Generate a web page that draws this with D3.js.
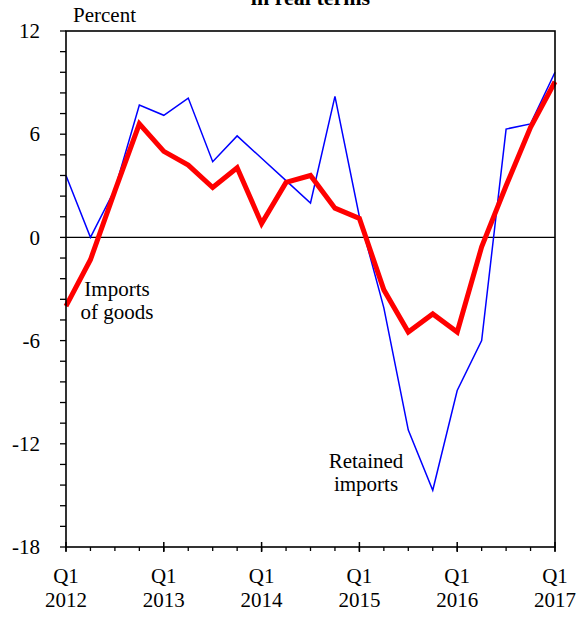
<!DOCTYPE html>
<html>
<head>
<meta charset="utf-8">
<script src="https://cdn.jsdelivr.net/npm/d3@7"></script>
<style>
  html, body { margin: 0; padding: 0; background: #fff; }
  svg { display: block; }
</style>
</head>
<body>
<svg id="chart" width="581" height="617"></svg>
<script>
// ---- Data (quarterly, 2012 Q1 .. 2017 Q1) ----
const quarters = [
  "2012Q1","2012Q2","2012Q3","2012Q4",
  "2013Q1","2013Q2","2013Q3","2013Q4",
  "2014Q1","2014Q2","2014Q3","2014Q4",
  "2015Q1","2015Q2","2015Q3","2015Q4",
  "2016Q1","2016Q2","2016Q3","2016Q4",
  "2017Q1"
];
const retainedImports = [3.6, 0.0, 2.8, 7.7, 7.1, 8.1, 4.4, 5.9, 4.6, 3.3, 2.0, 8.2, 1.2, -4.1, -11.2, -14.7, -8.9, -6.0, 6.3, 6.6, 9.6];
const importsOfGoods  = [-4.0, -1.3, 2.7, 6.6, 5.0, 4.2, 2.9, 4.05, 0.8, 3.2, 3.6, 1.7, 1.1, -3.05, -5.5, -4.45, -5.5, -0.55, 3.0, 6.4, 9.05];
const yTickValues = [12, 6, 0, -6, -12, -18];
const xTickQuarters = ["2012Q1","2013Q1","2014Q1","2015Q1","2016Q1","2017Q1"];
const xTickLabels = [["Q1","2012"],["Q1","2013"],["Q1","2014"],["Q1","2015"],["Q1","2016"],["Q1","2017"]];

// ---- Layout ----
const FONT = "'Liberation Serif', 'Times New Roman', Times, serif";
const FS = 21;
const mLeft = 66, mRight = 555, mTop = 31, mBottom = 547;
const svg = d3.select("#chart").attr("font-family", FONT);

const x = d3.scalePoint().domain(quarters).range([mLeft, mRight]);
const y = d3.scaleLinear().domain([-18, 12]).range([mBottom, mTop]);

function txt(sel) { return sel.attr("font-family", FONT).attr("fill", "#000"); }

// Title (cut off at top, as in the source)
txt(svg.append("text"))
  .attr("x", (mLeft + mRight) / 2).attr("y", 5)
  .attr("text-anchor", "middle")
  .attr("font-size", 22).attr("font-weight", "bold")
  .text("in real terms");

// Unit label
txt(svg.append("text"))
  .attr("x", 73).attr("y", 22)
  .attr("font-size", FS)
  .text("Percent");

// Y axis minor ticks (5 subdivisions between majors)
const yMinor = [];
for (let i = 0; i < yTickValues.length - 1; i++) {
  const a = yTickValues[i], b = yTickValues[i + 1];
  for (let k = 0; k < 5; k++) yMinor.push(a + (b - a) * k / 5);
}
yMinor.push(yTickValues[yTickValues.length - 1]);

svg.append("g").selectAll("line").data(yMinor).join("line")
  .attr("x1", mLeft - 6).attr("x2", mLeft)
  .attr("y1", d => y(d)).attr("y2", d => y(d))
  .attr("stroke", "#000").attr("stroke-width", 1.3);

txt(svg.append("g").selectAll("text").data(yTickValues).join("text"))
  .attr("x", 40).attr("y", d => y(d))
  .attr("dy", "0.34em")
  .attr("text-anchor", "end")
  .attr("font-size", FS)
  .text(d => d);

// X axis minor ticks (every quarter, below axis)
svg.append("g").selectAll("line").data(quarters).join("line")
  .attr("x1", d => x(d)).attr("x2", d => x(d))
  .attr("y1", mBottom).attr("y2", mBottom + 4)
  .attr("stroke", "#000").attr("stroke-width", 1.3);

// X axis major ticks (Q1, cross the axis)
svg.append("g").selectAll("line").data(xTickQuarters).join("line")
  .attr("x1", d => x(d)).attr("x2", d => x(d))
  .attr("y1", mBottom - 5).attr("y2", mBottom + 5)
  .attr("stroke", "#000").attr("stroke-width", 1.5);

const xl = txt(svg.append("g").selectAll("text").data(xTickQuarters).join("text"))
  .attr("x", d => x(d)).attr("y", 583)
  .attr("text-anchor", "middle")
  .attr("font-size", FS);
xl.append("tspan").attr("x", d => x(d)).text((d, i) => xTickLabels[i][0]);
xl.append("tspan").attr("x", d => x(d)).attr("dy", 24).text((d, i) => xTickLabels[i][1]);

// Zero line
svg.append("line")
  .attr("x1", mLeft).attr("x2", mRight)
  .attr("y1", y(0)).attr("y2", y(0))
  .attr("stroke", "#000").attr("stroke-width", 1.2);

// Series lines
const line = d3.line().x((d, i) => x(quarters[i])).y(d => y(d));

svg.append("path").datum(retainedImports)
  .attr("d", line)
  .attr("fill", "none").attr("stroke", "#0000ff").attr("stroke-width", 1.5)
  .attr("stroke-linejoin", "miter");

svg.append("path").datum(importsOfGoods)
  .attr("d", line)
  .attr("fill", "none").attr("stroke", "#ff0000").attr("stroke-width", 5)
  .attr("stroke-linejoin", "miter");

// Plot frame
svg.append("rect")
  .attr("x", mLeft).attr("y", mTop)
  .attr("width", mRight - mLeft).attr("height", mBottom - mTop)
  .attr("fill", "none").attr("stroke", "#000").attr("stroke-width", 1.6);

// Series labels
const lab1 = txt(svg.append("text")).attr("text-anchor", "middle").attr("font-size", FS);
lab1.append("tspan").attr("x", 117).attr("y", 296).text("Imports");
lab1.append("tspan").attr("x", 117).attr("y", 319).text("of goods");

const lab2 = txt(svg.append("text")).attr("text-anchor", "middle").attr("font-size", FS);
lab2.append("tspan").attr("x", 366).attr("y", 468).text("Retained");
lab2.append("tspan").attr("x", 366).attr("y", 491).text("imports");
</script>
</body>
</html>
